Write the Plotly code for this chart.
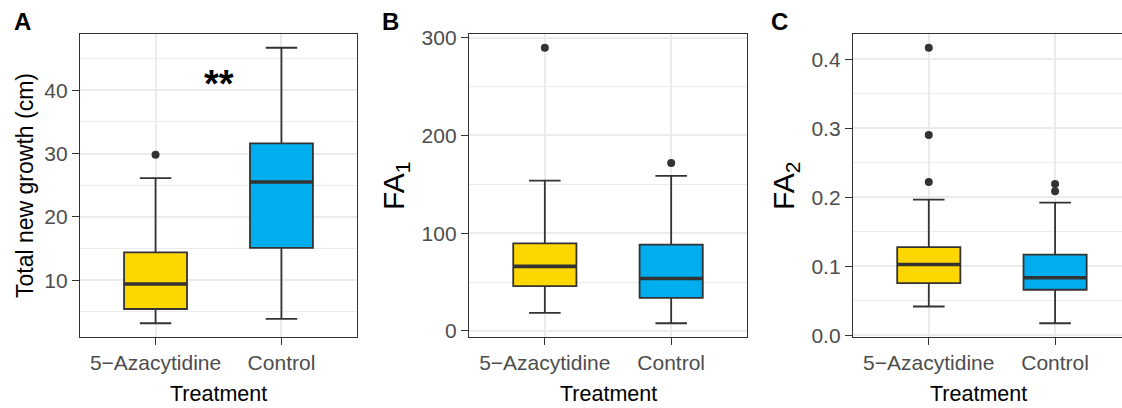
import plotly.graph_objects as go

# ---------------- data ----------------
categories = ["5−Azacytidine", "Control"]
box_colors = ["#FFD700", "#00AEEF"]

growth_q1 = [5.45, 15.1]
growth_median = [9.4, 25.5]
growth_q3 = [14.4, 31.6]
growth_lower = [3.2, 3.9]
growth_upper = [26.1, 46.7]
growth_outliers = [[29.8], []]

fa1_q1 = [45.7, 33.8]
fa1_median = [66.0, 53.6]
fa1_q3 = [89.5, 88.2]
fa1_lower = [18.5, 7.8]
fa1_upper = [153.8, 158.6]
fa1_outliers = [[289.8], [171.9]]

fa2_q1 = [0.0755, 0.066]
fa2_median = [0.1027, 0.0834]
fa2_q3 = [0.1278, 0.1168]
fa2_lower = [0.0417, 0.0174]
fa2_upper = [0.1967, 0.1923]
fa2_outliers = [[0.417, 0.2905, 0.2222], [0.2193, 0.2087]]

growth_ticks = [10, 20, 30, 40]
fa1_ticks = [0, 100, 200, 300]
fa2_ticks = [0.0, 0.1, 0.2, 0.3, 0.4]
fa2_ticktext = ["0.0", "0.1", "0.2", "0.3", "0.4"]

panel_letters = ["A", "B", "C"]
y_titles = ["Total new growth (cm)", "FA<sub>1</sub>", "FA<sub>2</sub>"]
x_title = "Treatment"
signif_text = "**"
signif_y = 41

# ---------------- layout constants ----------------
W, H = 1122, 408
FONT = "Liberation Sans, Arial, sans-serif"
DARK = "#333333"
GRID = "#EBEBEB"
BOX_W = 0.5
pos = [1, 2]

panels = [
    dict(q1=growth_q1, med=growth_median, q3=growth_q3, lo=growth_lower, hi=growth_upper,
         out=growth_outliers, ticks=growth_ticks, ticktext=[str(t) for t in growth_ticks],
         minor=5, xdom=(80, 357), xr=(0.4, 2.6), mirror_y=True),
    dict(q1=fa1_q1, med=fa1_median, q3=fa1_q3, lo=fa1_lower, hi=fa1_upper,
         out=fa1_outliers, ticks=fa1_ticks, ticktext=[str(t) for t in fa1_ticks],
         minor=50, xdom=(469, 747), xr=(0.4, 2.6), mirror_y=True),
    dict(q1=fa2_q1, med=fa2_median, q3=fa2_q3, lo=fa2_lower, hi=fa2_upper,
         out=fa2_outliers, ticks=fa2_ticks, ticktext=fa2_ticktext,
         minor=0.05, xdom=(853, 1122), xr=(0.4, 0.4 + (1122 - 853) / 126.3), mirror_y=False),
]

YTOP, YBOT = 34, 337

fig = go.Figure()
layout = dict(
    width=W, height=H,
    template="none",
    margin=dict(l=0, r=0, t=0, b=0, pad=0),
    paper_bgcolor="white", plot_bgcolor="white",
    showlegend=False,
    font=dict(family=FONT, color="#4D4D4D", size=21),
)
annotations = []

for i, p in enumerate(panels):
    sfx = "" if i == 0 else str(i + 1)
    xa, ya = "x" + sfx, "y" + sfx
    for j in range(2):
        fig.add_trace(go.Box(
            x=[pos[j]], q1=[p["q1"][j]], median=[p["med"][j]], q3=[p["q3"][j]],
            lowerfence=[p["lo"][j]], upperfence=[p["hi"][j]],
            width=BOX_W, fillcolor=box_colors[j], boxpoints=False,
            line=dict(color=DARK, width=1.8), xaxis=xa, yaxis=ya, hoverinfo="skip",
        ))
        # thicker median line (ggplot style)
        fig.add_trace(go.Scatter(
            x=[pos[j] - BOX_W / 2, pos[j] + BOX_W / 2], y=[p["med"][j], p["med"][j]],
            mode="lines", line=dict(color=DARK, width=3.6), xaxis=xa, yaxis=ya, hoverinfo="skip",
        ))
        if p["out"][j]:
            fig.add_trace(go.Scatter(
                x=[pos[j]] * len(p["out"][j]), y=p["out"][j], mode="markers",
                marker=dict(color=DARK, size=8, line=dict(width=0)), xaxis=xa, yaxis=ya, hoverinfo="skip",
            ))
    allv = p["lo"] + p["hi"] + [v for o in p["out"] for v in o]
    vmin, vmax = min(allv), max(allv)
    pad = (vmax - vmin) * 0.05
    x0, x1 = p["xdom"]
    layout["xaxis" + sfx] = dict(
        domain=[x0 / W, x1 / W], range=list(p["xr"]), anchor=ya, automargin=False,
        tickvals=pos, ticktext=categories, showgrid=True, gridcolor=GRID, gridwidth=2,
        zeroline=False, showline=True, mirror=True, linecolor=DARK, linewidth=1.4,
        ticks="outside", ticklen=7, tickwidth=1.4, tickcolor=DARK,
        tickfont=dict(family=FONT, size=21, color="#4D4D4D"),
    )
    layout["yaxis" + sfx] = dict(
        domain=[1 - YBOT / H, 1 - YTOP / H], range=[vmin - pad, vmax + pad], anchor=xa, automargin=False,
        tickvals=p["ticks"], ticktext=p["ticktext"], showgrid=True, gridcolor=GRID, gridwidth=2,
        minor=dict(dtick=p["minor"], tick0=0, showgrid=True, gridcolor=GRID, gridwidth=1, ticks=""),
        zeroline=False, showline=True, mirror=p["mirror_y"], linecolor=DARK, linewidth=1.4,
        ticks="outside", ticklen=7, tickwidth=1.4, tickcolor=DARK,
        tickfont=dict(family=FONT, size=21, color="#4D4D4D"),
    )

# Panel letters
for letter, lx in zip(panel_letters, [12, 380, 769]):
    annotations.append(dict(text="<b>%s</b>" % letter, x=lx / W, y=1 - 6 / H, xref="paper", yref="paper",
                            xanchor="left", yanchor="top", showarrow=False,
                            font=dict(family=FONT, size=24, color="black")))
# x titles
for cx in [218.5, 608, 978]:
    annotations.append(dict(text=x_title, x=cx / W, y=1 - 394 / H, xref="paper", yref="paper",
                            xanchor="center", yanchor="middle", showarrow=False,
                            font=dict(family=FONT, size=21.5, color="black")))
# y titles
for t, cx, fs in zip(y_titles, [25, 396, 786], [23, 30, 30]):
    annotations.append(dict(text=t, x=cx / W, y=1 - 186 / H, xref="paper", yref="paper",
                            xanchor="center", yanchor="middle", textangle=-90, showarrow=False,
                            font=dict(family=FONT, size=fs, color="black")))
# significance
annotations.append(dict(text="<b>%s</b>" % signif_text, x=1.5, y=signif_y, xref="x", yref="y",
                        xanchor="center", yanchor="middle", showarrow=False,
                        font=dict(family=FONT, size=38, color="black")))

layout["annotations"] = annotations
fig.update_layout(**layout)
fig.write_html("out.html", config={"displayModeBar": False},
               post_script="document.body.style.margin='0';document.body.style.overflow='hidden';")
